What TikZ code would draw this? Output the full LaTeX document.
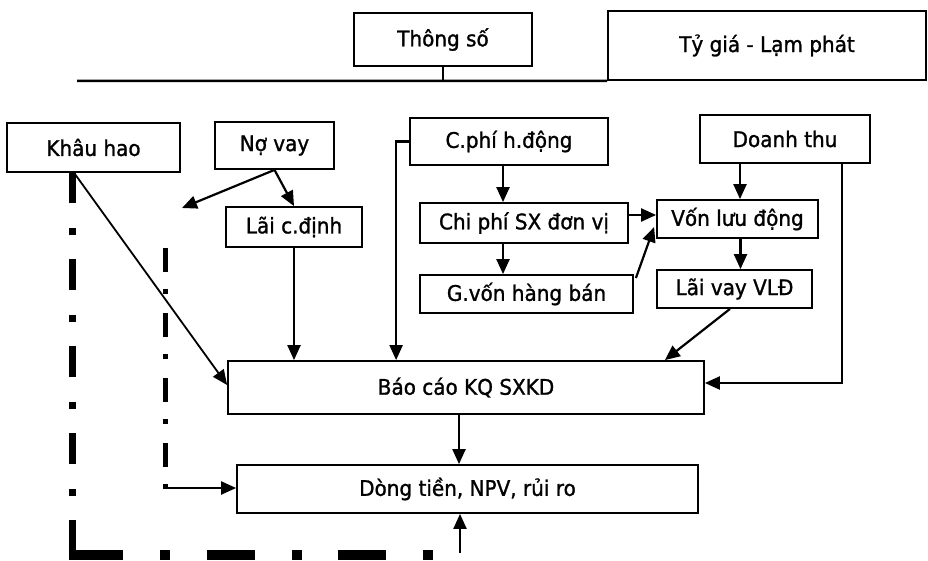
\documentclass[tikz,border=0pt]{standalone}
\usepackage{fontspec}
\setmainfont{DejaVu Sans}[FakeStretch=0.93,FakeBold=1.2]
\usetikzlibrary{arrows.meta,calc}
\begin{document}
\begin{tikzpicture}[x=1pt,y=-1pt,
  box/.style={draw, line width=1.8pt, inner sep=0pt, font=\fontsize{21.5}{24}\selectfont},
  arr/.style={line width=2.2pt, -{Triangle[length=15pt,width=13pt]}},
  thindd/.style={line width=5pt, dash pattern=on 24pt off 17pt on 5pt off 19pt},
  thickv/.style={line width=7pt, dash pattern=on 31pt off 25pt on 7pt off 24pt},
  thickh/.style={line width=10pt, dash pattern=on 54pt off 37pt on 10pt off 37pt on 48pt off 37pt on 10pt off 36pt on 48pt off 37pt on 10pt off 40pt}]
\useasboundingbox (0,0) rectangle (928,561);

% top
\node[box, minimum width=178, minimum height=53] (thong) at (443,39.5) {Thông số};
\node[box, minimum width=318, minimum height=69] (tygia) at (767,45.5) {Tỷ giá - Lạm phát};
\coordinate (lineL) at (77,81);
\draw[line width=2.5pt] (lineL) -- (tygia.south west);
\draw[line width=1.5pt] (thong.south) -- (thong.south |- lineL);

% boxes
\node[box, minimum width=173, minimum height=49] (kh) at (93.5,147.5) {Khâu hao};
\node[box, minimum width=119, minimum height=47] (nv) at (274.5,145.5) {Nợ vay};
\node[box, minimum width=136, minimum height=40] (lcd) at (294,227) {Lãi c.định};
\node[box, minimum width=198, minimum height=47] (cp) at (509,141.5) {C.phí h.động};
\node[box, minimum width=170, minimum height=48] (dt) at (785,139) {Doanh thu};
\node[box, minimum width=208, minimum height=40] (cpsx) at (524,223) {Chi phí SX đơn vị};
\node[box, minimum width=161, minimum height=38] (vld) at (737.5,219) {Vốn lưu động};
\node[box, minimum width=213, minimum height=38] (gv) at (526.5,294) {G.vốn hàng bán};
\node[box, minimum width=155, minimum height=38] (lv) at (734.5,289) {Lãi vay VLĐ};
\node[box, minimum width=476, minimum height=53] (bc) at (466,387.5) {Báo cáo KQ SXKD};
\node[box, minimum width=461, minimum height=48] (dong) at (467.5,489) {Dòng tiền, NPV, rủi ro};

% connectors
\coordinate (nvend) at (182,208);
\draw[arr] (nv.south) -- (nvend);
\draw[arr] (nv.south) -- (lcd.north);
\draw[arr] (lcd.south) -- (lcd.south |- bc.north);
\draw[arr] (cp.west) -- ++(-13,0) coordinate (cpl) -- (cpl |- bc.north);
\draw[arr] ([xshift=-6pt]cp.south) -- ([xshift=-6pt]cp.south |- cpsx.north);
\draw[arr] ([xshift=-21pt]cpsx.south) -- ([xshift=-21pt]cpsx.south |- gv.north);
\draw[arr] ([yshift=8pt]cpsx.east) -- ([yshift=8pt]cpsx.east -| vld.west);
\draw[arr] ($(gv.east)+(2,-16)$) -- ($(vld.west)+(-2,8)$);
\draw[arr] ([xshift=-45pt]dt.south) -- ([xshift=-45pt]dt.south |- vld.north);
\draw[arr] ([xshift=3pt]vld.south) -- ([xshift=3pt]vld.south |- lv.north);
\draw[arr] ($(lv.south)+(-4.5,0)$) -- ($(bc.north east)+(-40,0)$);
\draw[arr] ([xshift=57pt]dt.south) |- ([yshift=4.5pt]bc.east);
\draw[arr, line width=1.8pt] ($(kh.south west)+(68,0)$) -- ($(bc.west)+(0,-2.5)$);
\draw[arr] ([xshift=-7pt]bc.south) -- ([xshift=-7pt]bc.south |- dong.north);
\coordinate (bot) at (460,553);
\draw[arr] (bot) -- (bot |- dong.south);

% thin dash-dot
\coordinate (tdtop) at (165,248);
\coordinate (tdc) at (165,488);
\draw[thindd] (tdtop) -- (165,490);
\draw[arr] (tdc) -- (tdc -| dong.west);

% thick dash-dot
\coordinate (tkv) at (72,172);
\coordinate (tkc) at (72,551);
\draw[thickv] (tkv) -- (tkc);
\coordinate (tkh) at (68.5,555);
\coordinate (tke) at (432.5,555);
\draw[thickh] (tkh) -- (tke);
\end{tikzpicture}
\end{document}
